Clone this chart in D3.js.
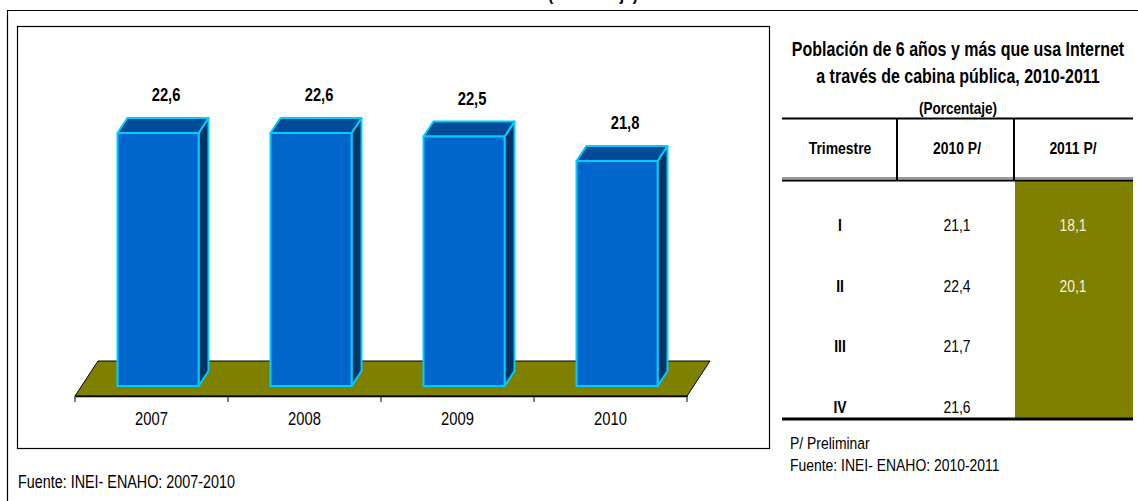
<!DOCTYPE html>
<html>
<head>
<meta charset="utf-8">
<script src="https://cdn.jsdelivr.net/npm/d3@7"></script>
<style>
  html, body { margin: 0; padding: 0; background: #fff; }
  svg { display: block; }
  text { font-family: "Liberation Sans Narrow", "Arial Narrow", "Liberation Sans", Arial, sans-serif; fill: #000; }
</style>
</head>
<body>
<svg id="chart" width="1138" height="501"></svg>
<script>
// ---- Data ----
const years = ["2007", "2008", "2009", "2010"];
const values = [22.6, 22.6, 22.5, 21.8];
const valueLabels = ["22,6", "22,6", "22,5", "21,8"];

const quarters = ["I", "II", "III", "IV"];
const q2010 = ["21,1", "22,4", "21,7", "21,6"];
const q2011 = ["18,1", "20,1", "", ""];
const tableHeaders = ["Trimestre", "2010 P/", "2011 P/"];

const tableTitle = ["Población de 6 años y más que usa Internet", "a través de cabina pública, 2010-2011"];
const tableUnit = "(Porcentaje)";
const noteLeft = "Fuente: INEI- ENAHO: 2007-2010";
const notesRight = ["P/ Preliminar", "Fuente: INEI- ENAHO: 2010-2011"];

// ---- Helpers ----
const svg = d3.select("#chart");
const NARROW = 0.82; // horizontal squeeze to imitate a narrow face
function txt(parent, x, y, s, size, opts = {}) {
  return parent.append("text")
    .attr("transform", `translate(${x},${y}) scale(${NARROW},1)`)
    .attr("text-anchor", opts.anchor || "start")
    .attr("font-weight", opts.bold ? "bold" : "normal")
    .attr("font-size", size)
    .style("fill", opts.fill || "#000")
    .text(s);
}

// outer frame (top and left visible)
svg.append("path").attr("d", "M7.5,501 V10.5 H1138").attr("fill", "none").attr("stroke", "#000").attr("stroke-width", 1.2);
// cut-off heading at very top
txt(svg, 593, 0, tableUnit, 19, {anchor: "middle", bold: true});

// inner chart box
svg.append("rect").attr("x", 17.5).attr("y", 26.5).attr("width", 752).attr("height", 422)
  .attr("fill", "#fff").attr("stroke", "#000").attr("stroke-width", 1.2);

// 3D geometry
const floorFrontY = 396;
const depth = {dx: 23, dy: -35};       // full floor depth vector
const barD0 = 0.285, barD1 = 0.715;    // bar depth span (fraction of floor)

const x = d3.scaleBand().domain(years).range([75, 687]).paddingInner(0.47).paddingOuter(0.235);
const xAxisScale = d3.scaleBand().domain(years).range([75, 687]);
const yMin = 15.37;
const y = d3.scaleLinear().domain([yMin, 22.6]).range([0, 253]); // height above floor

// floor
const fl = [[75, floorFrontY], [75 + depth.dx, floorFrontY + depth.dy], [687 + depth.dx, floorFrontY + depth.dy], [687, floorFrontY]];
svg.append("path").attr("d", d3.line()(fl) + "Z").attr("fill", "#808000").attr("stroke", "#000").attr("stroke-width", 1);

// axis
const axisG = svg.append("g").attr("transform", `translate(0,${floorFrontY})`);
axisG.call(d3.axisBottom(xAxisScale).tickSize(0).tickPadding(16));
axisG.select(".domain").attr("stroke", "#000").attr("stroke-width", 1.3);
axisG.selectAll(".tick text")
  .attr("font-family", null).attr("font-size", 18).style("fill", "#000")
  .attr("transform", `scale(${NARROW},1)`);
axisG.attr("font-family", null);
const tickPos = years.map(d => xAxisScale(d)).concat([xAxisScale.range()[1]]);
axisG.selectAll(".bnd").data(tickPos).join("line").attr("class", "bnd")
  .attr("x1", d => d).attr("x2", d => d).attr("y1", 0).attr("y2", 6)
  .attr("stroke", "#000").attr("stroke-width", 1);

// bars
const frontShiftX = depth.dx * barD0, frontShiftY = depth.dy * barD0;
const bdx = depth.dx * (barD1 - barD0), bdy = depth.dy * (barD1 - barD0);
const bars = svg.append("g");
years.forEach((yr, i) => {
  const x0 = x(yr) + frontShiftX, w = x.bandwidth();
  const yb = floorFrontY + frontShiftY;
  const yt = yb - y(values[i]);
  const g = bars.append("g");
  g.append("path").attr("d", `M${x0 + w},${yt} L${x0 + w + bdx},${yt + bdy} L${x0 + w + bdx},${yb + bdy} L${x0 + w},${yb} Z`)
    .attr("fill", "#003366").attr("stroke", "#00CCFF").attr("stroke-width", 2).attr("stroke-linejoin", "round");
  g.append("path").attr("d", `M${x0},${yt} L${x0 + bdx},${yt + bdy} L${x0 + w + bdx},${yt + bdy} L${x0 + w},${yt} Z`)
    .attr("fill", "#004C99").attr("stroke", "#00CCFF").attr("stroke-width", 2).attr("stroke-linejoin", "round");
  g.append("rect").attr("x", x0).attr("y", yt).attr("width", w).attr("height", yb - yt)
    .attr("fill", "#0066CC").attr("stroke", "#00CCFF").attr("stroke-width", 2);
  txt(g, x0 + w / 2 + 8, yt + bdy - 16.5, valueLabels[i], 18, {anchor: "middle", bold: true});
});

// left note
txt(svg, 18, 488, noteLeft, 17.5);

// ---- Table ----
const tX0 = 782, tX1 = 1133;
const colX = d3.scaleOrdinal().domain(tableHeaders).range([840, 957, 1073]);
const rowY = d3.scalePoint().domain(quarters).range([225, 407]);

tableTitle.forEach((line, i) => txt(svg, 958, 56 + i * 27, line, 19.5, {anchor: "middle", bold: true}));
txt(svg, 958, 114, tableUnit, 16.5, {anchor: "middle", bold: true});

// green column
svg.append("rect").attr("x", 1015).attr("y", 181).attr("width", tX1 - 1015).attr("height", 237).attr("fill", "#808000");

// rules
svg.append("line").attr("x1", tX0).attr("x2", tX1).attr("y1", 118.5).attr("y2", 118.5).attr("stroke", "#000").attr("stroke-width", 2);
svg.append("line").attr("x1", tX0).attr("x2", tX1).attr("y1", 178).attr("y2", 178).attr("stroke", "#999").attr("stroke-width", 2);
svg.append("line").attr("x1", tX0).attr("x2", tX1).attr("y1", 180.5).attr("y2", 180.5).attr("stroke", "#000").attr("stroke-width", 2);
svg.append("line").attr("x1", tX0).attr("x2", tX1).attr("y1", 419).attr("y2", 419).attr("stroke", "#000").attr("stroke-width", 3);
[897, 1014].forEach(vx => {
  svg.append("line").attr("x1", vx).attr("x2", vx).attr("y1", 118).attr("y2", 180).attr("stroke", "#000").attr("stroke-width", 2);
});

// headers
tableHeaders.forEach(h => txt(svg, colX(h), 154, h, 17, {anchor: "middle", bold: true}));

// rows
const rows = svg.append("g");
quarters.forEach((q, i) => {
  txt(rows, colX(tableHeaders[0]), rowY(q) + 6, q, 17, {anchor: "middle", bold: true});
  txt(rows, colX(tableHeaders[1]), rowY(q) + 6, q2010[i], 17, {anchor: "middle"});
  if (q2011[i]) txt(rows, colX(tableHeaders[2]), rowY(q) + 6, q2011[i], 17, {anchor: "middle", fill: "#F2F2D9"});
});

notesRight.forEach((n, i) => txt(svg, 790, 449 + i * 22, n, 17));
</script>
</body>
</html>
